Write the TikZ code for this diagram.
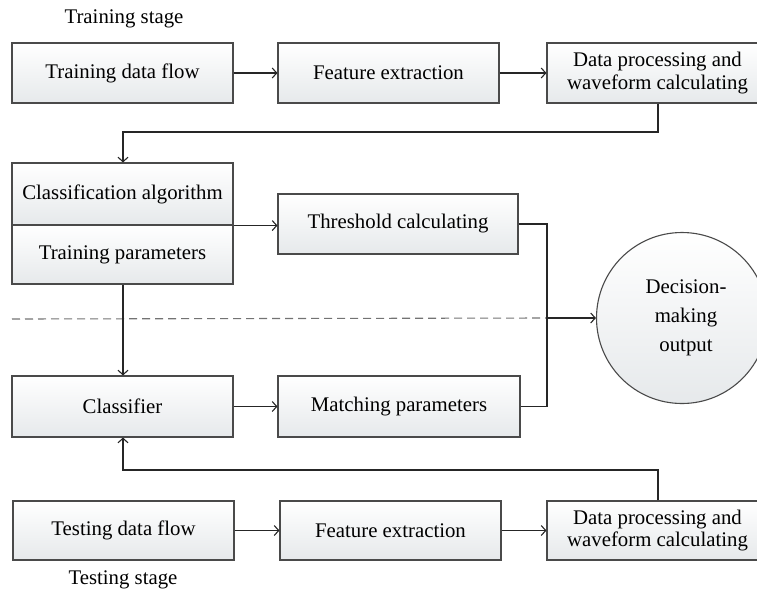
\documentclass[tikz,border=0pt]{standalone}
\usepackage{fontspec}
\setmainfont{Liberation Serif}
\usetikzlibrary{arrows.meta,shapes.geometric}
\definecolor{boxline}{HTML}{4A4A4A}
\definecolor{boxbot}{HTML}{E6E9EB}
\begin{document}
\begin{tikzpicture}[x=1pt,y=-1pt,
  font=\fontsize{20.8}{22.5}\selectfont,
  box/.style={draw=boxline,line width=1.1pt,top color=white,bottom color=boxbot,
    inner sep=0pt,align=center,minimum height=60pt},
  widebox/.style={box,minimum width=221pt},
  conn/.style={line width=1.1pt,draw=black!85},
  arr/.style={conn,-{Straight Barb[length=4.5pt,width=10pt,line width=1.1pt]}},
  lbl/.style={inner sep=0pt,anchor=base}]
\useasboundingbox (0,0) rectangle (757,590);

% stage labels
\node[lbl] (trainlbl) at (124,23) {Training stage};
\node[lbl] (testlbl) at (123,584) {Testing stage};

% training row
\node[widebox] (tr1) at (122.5,73) {Training data flow};
\node[widebox] (tr2) at (388.5,73) {Feature extraction};
\node[widebox] (tr3) at (657.5,73) {Data processing and\\waveform calculating};

% classification block (two stacked cells)
\node[widebox,minimum height=62pt] (clsA) at (122.5,194) {Classification algorithm};
\node[widebox,minimum height=59pt] (clsB) at (122.5,254.5) {Training parameters};

\node[box,minimum width=240pt] (thr) at (398,224) {Threshold calculating};
\node[widebox,minimum height=61pt] (cf) at (122.5,406.5) {Classifier};
\node[box,minimum width=242pt,minimum height=61pt] (mp) at (399,406.5) {Matching parameters};

% decision output
\node[draw=boxline,line width=1.1pt,circle,minimum size=171pt,inner sep=0pt,
  top color=white,bottom color=boxbot,align=center,
  font=\fontsize{20.8}{29}\selectfont] (dec) at (682,318)
  {\hspace*{8pt}Decision-\\\hspace*{8pt}making\\\hspace*{8pt}output};

% testing row
\node[widebox,minimum height=59pt] (te1) at (123.5,530.5) {Testing data flow};
\node[widebox,minimum height=59pt] (te2) at (390.5,530.5) {Feature extraction};
\node[widebox,minimum height=59pt] (te3) at (657.5,530.5) {Data processing and\\waveform calculating};

% separator between the two stages
\coordinate (dashL) at (12,319);
\coordinate (join) at (547,318);
\draw[black!55,line width=1.1pt,dash pattern=on 8pt off 5pt] (dashL) -- (join);

% routing points
\coordinate (trTurn) at (658,132);
\coordinate (trBack) at (123,132);
\coordinate (teTurn) at (658,470);
\coordinate (teBack) at (123,470);

% connectors
\draw[arr] (tr1) -- (tr2);
\draw[arr] (tr2) -- (tr3);
\draw[arr] (tr3.south -| trTurn) -- (trTurn) -- (trBack) -- (clsA.north -| trBack);
\draw[arr] (clsA.south east) -- (clsA.south east -| thr.west);
\draw[arr] (clsB.south -| trBack) -- (cf.north -| trBack);
\draw[arr] (cf) -- (mp);
\draw[conn] (thr.east) -| (join);
\draw[conn] (mp.east) -| (join);
\draw[arr] (join) -- (dec.west);
\draw[arr] (te1) -- (te2);
\draw[arr] (te2) -- (te3);
\draw[arr] (te3.north -| teTurn) -- (teTurn) -- (teBack) -- (cf.south -| teBack);
\end{tikzpicture}
\end{document}
